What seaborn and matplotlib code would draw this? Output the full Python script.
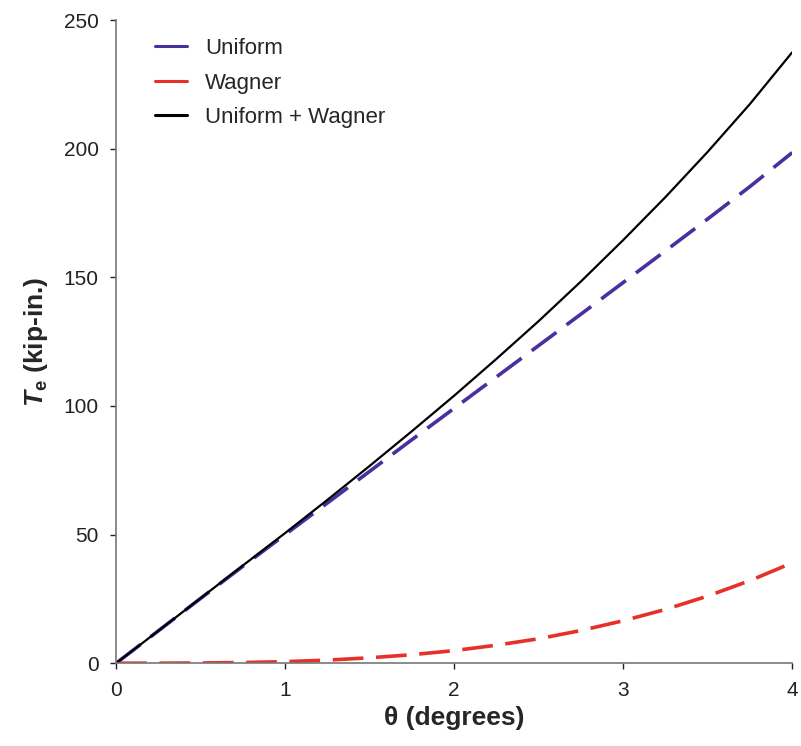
import numpy as np
import pandas as pd
import matplotlib
matplotlib.use('Agg')
import matplotlib.pyplot as plt
import seaborn as sns

# values (theta in degrees, torque in kip-in.)
theta = [0, 0.25, 0.5, 0.75, 1.0, 1.25, 1.5, 1.75, 2.0,
         2.25, 2.5, 2.75, 3.0, 3.25, 3.5, 3.75, 4.0]
uniform = [0, 12.6, 25.2, 37.7, 50.0, 62.3, 74.6, 86.9, 99.1,
           111.3, 123.5, 135.7, 148.0, 160.3, 172.7, 185.3, 198.5]
wagner = [0, 0.01, 0.08, 0.26, 0.6, 1.2, 2.1, 3.3, 4.9,
          7.0, 9.5, 12.7, 16.5, 20.9, 26.1, 32.1, 39.0]
combined = [0, 12.6, 25.3, 38.0, 50.6, 63.5, 76.7, 90.2, 104.0,
            118.3, 133.0, 148.4, 164.5, 181.2, 198.8, 217.4, 237.5]

sns.set_style('ticks')
plt.rcParams['font.family'] = ['Liberation Sans', 'DejaVu Sans']
plt.rcParams['mathtext.fontset'] = 'custom'
plt.rcParams['mathtext.it'] = 'Liberation Sans:italic:bold'
plt.rcParams['mathtext.rm'] = 'Liberation Sans:bold'

fig = plt.figure(figsize=(8.01, 7.46), dpi=100)
ax = fig.add_axes([0.145, 0.111, 0.844, 0.862])

sns.lineplot(x=theta, y=uniform, ax=ax, color='#4a2fa0', lw=2.6,
             label='Uniform')
ax.lines[-1].set_dashes([8.5, 3.5])
sns.lineplot(x=theta, y=wagner, ax=ax, color='#e8302a', lw=2.6,
             label='Wagner')
ax.lines[-1].set_dashes([8.5, 3.5])
sns.lineplot(x=theta, y=combined, ax=ax, color='black', lw=1.6,
             label='Uniform + Wagner')

ax.set_xlim(0, 4)
ax.set_ylim(0, 250)
ax.set_xticks([0, 1, 2, 3, 4])
ax.set_yticks([0, 50, 100, 150, 200, 250])
ax.tick_params(labelsize=15, colors='#222222', length=4.5, width=1, pad=8)
for s in ['left', 'bottom']:
    ax.spines[s].set_color('#777777')
    ax.spines[s].set_linewidth(1.2)
sns.despine(ax=ax)

ax.set_xlabel('θ (degrees)', fontsize=19, fontweight='bold', labelpad=5)
ax.set_ylabel(r'$T_{\mathrm{e}}$ (kip-in.)', fontsize=19, fontweight='bold', labelpad=10)

leg = ax.legend(loc='upper left', bbox_to_anchor=(0.028, 1.003), frameon=False,
                fontsize=16, handlelength=1.45, handletextpad=0.8, labelspacing=0.6)
for h in leg.get_lines():
    h.set_dashes([])
    h.set_linewidth(2.2)

fig.savefig('out.png', dpi=100)
